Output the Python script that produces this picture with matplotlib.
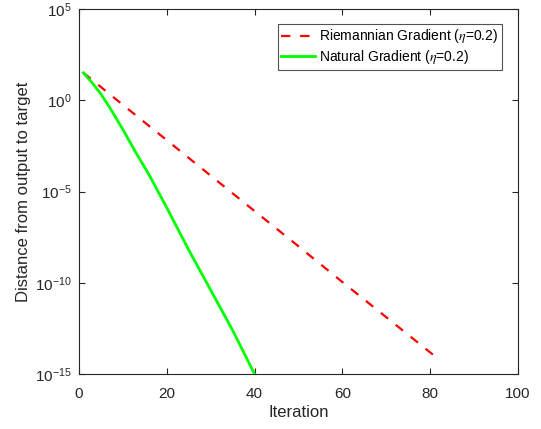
import numpy as np
import matplotlib
matplotlib.use('Agg')
import matplotlib.pyplot as plt

plt.rcParams['font.family'] = ['Liberation Sans', 'DejaVu Sans']
plt.rcParams['mathtext.fontset'] = 'stix'
plt.rcParams['axes.unicode_minus'] = False

# Riemannian gradient: distance per iteration
riem_iter = [1, 10, 20, 30, 40, 50, 60, 70, 82]
riem_dist = [32, 0.56, 6.5e-3, 7.4e-5, 8.5e-7, 1.0e-8, 1.1e-10, 1.3e-12, 6.3e-15]

# Natural gradient: distance per iteration
nat_iter = [1, 3, 5, 7, 10, 13, 16, 20, 25, 30, 35, 40]
nat_dist = [32, 9.0, 2.2, 0.4, 0.025, 1.3e-3, 8e-5, 1.3e-6, 6.3e-9, 4e-11, 2.5e-13, 1e-15]

xticks = [0, 20, 40, 60, 80, 100]
yticks = [1e-15, 1e-10, 1e-5, 1e0, 1e5]

fig = plt.figure(figsize=(5.41, 4.29), dpi=100)
ax = fig.add_axes([0.146, 0.128, 0.8115, 0.851])

ax.plot(riem_iter, riem_dist, color='red', linestyle=(0, (4.2, 4.4)), linewidth=1.6,
        label=r'Riemannian Gradient ($\eta$=0.2)')
ax.plot(nat_iter, nat_dist, color='#00ff00', linestyle='-', linewidth=2.0,
        label=r'Natural Gradient ($\eta$=0.2)')

ax.set_yscale('log')
ax.set_xlim(0, 100)
ax.set_ylim(1e-15, 1e5)
ax.set_xticks(xticks)
ax.set_yticks(yticks)
ax.yaxis.set_minor_locator(matplotlib.ticker.NullLocator())

axis_color = '#262626'
for side in ax.spines.values():
    side.set_color(axis_color)
    side.set_linewidth(0.8)
ax.tick_params(direction='in', top=True, right=True, length=4, width=0.8,
               colors=axis_color, labelsize=11, labelcolor='#262626')
ax.tick_params(axis='x', pad=9)
ax.tick_params(axis='y', pad=5)

ax.set_xlabel('Iteration', fontsize=12, color='#262626', labelpad=3)
ax.set_ylabel('Distance from output to target', fontsize=12, color='#262626', labelpad=3)

leg = ax.legend(loc='upper right', bbox_to_anchor=(0.9636, 0.959), borderaxespad=0,
                fontsize=10, frameon=True, fancybox=False, edgecolor='#262626',
                handlelength=2.45, handletextpad=0.3, borderpad=0.25, labelspacing=0.2)
leg.get_frame().set_linewidth(0.8)

fig.savefig('out.png', dpi=100)
